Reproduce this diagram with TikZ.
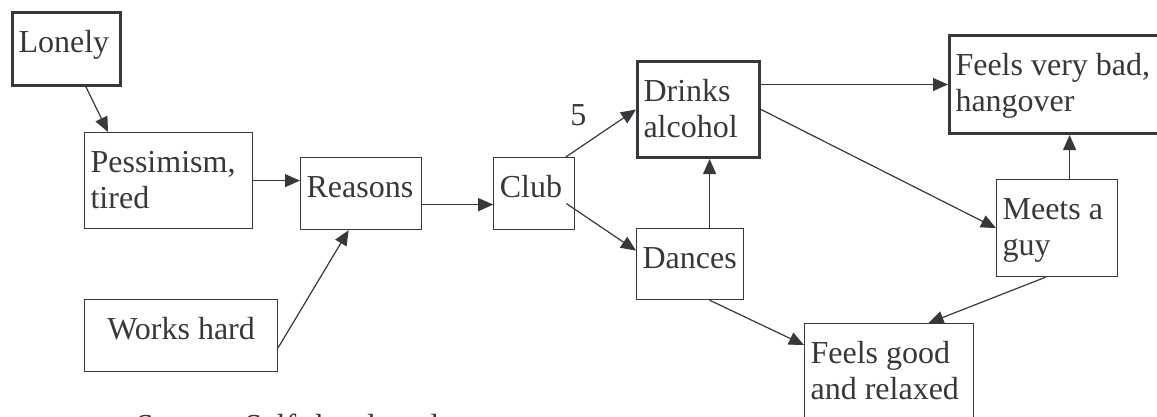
\documentclass[tikz,border=0pt]{standalone}
\usepackage{fontspec}
\setmainfont{Liberation Serif}
\usepackage{xcolor}
\definecolor{ink}{RGB}{55,55,60}
\usepackage{tikz}
\usetikzlibrary{arrows.meta,positioning,calc}

% text block of a box: width, height, text (top left, as in the source)
\newcommand{\boxtext}[4][\raggedright]{\parbox[c][#3][t]{#2}{\vspace*{14pt}#1\strut#4}}

\begin{document}
\begin{tikzpicture}[
    x=1pt, y=-1pt,
    box/.style={draw=ink, line width=1.2pt, rectangle, inner xsep=6pt, inner ysep=0pt, anchor=north west, text=ink, font=\fontsize{32}{36.7}\selectfont},
    keybox/.style={box, line width=3pt},
    arrow/.style={-{Triangle[length=15pt, width=13pt]}, draw=ink, line width=1.2pt}
]
\useasboundingbox (0,0) rectangle (1157,416);
\clip (0,0) rectangle (1157,416);

% Boxes
\node[keybox] (lonely) at (11,11) {\boxtext{96pt}{73pt}{Lonely}};
\node[box] (pess) at (84,132) {\boxtext{156pt}{96pt}{Pessimism,\\tired}};
\node[box] (reasons) at (300,157) {\boxtext{109pt}{72pt}{Reasons}};
\node[box] (works) at (84,299) {\boxtext[\centering]{181pt}{72pt}{Works hard}};
\node[box, right=71pt of reasons] (club) {\boxtext{69pt}{72pt}{Club}};

\node[keybox] (drinks) at (636,60) {\boxtext{110pt}{96pt}{Drinks\\alcohol}};
\node[box] (dances) at (636,228) {\boxtext{95pt}{71pt}{Dances}};
\node[keybox] (hangover) at (948,34) {\boxtext{205pt}{98pt}{Feels very bad,\\hangover}};
\node[box] (meets) at (996,179) {\boxtext{109pt}{97pt}{Meets a\\guy}};
\node[box] (relaxed) at (804,323) {\boxtext{157pt}{117pt}{Feels good\\and relaxed}};

\node[anchor=base west, inner sep=0pt, text=ink, font=\fontsize{32}{36.7}\selectfont] (source) at (136,436) {Source: Self-developed};

% Arrows
\draw[arrow] ([xshift=75pt]lonely.south west) -- ([xshift=24pt]pess.north west);
\draw[arrow] (pess.east) -- (pess.east -| reasons.west);
\draw[arrow] ([yshift=-12pt]works.east) -- ([xshift=-12.5pt]reasons.south);
\draw[arrow] ([yshift=-11pt]reasons.east) -- ([yshift=-11pt]club.west);
\draw[arrow] ([xshift=31.5pt]club.north) -- (drinks.west)
    node[pos=0.18, above=22pt, inner sep=0pt, text=ink, font=\fontsize{32}{36.7}\selectfont] (five) {5};
\draw[arrow] ([xshift=-9pt, yshift=-10pt]club.east) -- ([yshift=13.5pt]dances.west);
\draw[arrow] ([xshift=19.5pt]dances.north) -- ([xshift=19.5pt]dances.north |- drinks.south);
\draw[arrow] ([yshift=25pt]drinks.east) -- (hangover.west);
\draw[arrow] (drinks.east) -- (meets.west);
\draw[arrow] ([xshift=12.5pt]meets.north) -- ([xshift=12.5pt]meets.north |- hangover.south);
\draw[arrow] ([xshift=-11.5pt]meets.south) -- ([xshift=39.5pt]relaxed.north);
\draw[arrow] ([xshift=19.5pt]dances.south) -- ([yshift=-22pt]relaxed.north west);

\end{tikzpicture}
\end{document}
